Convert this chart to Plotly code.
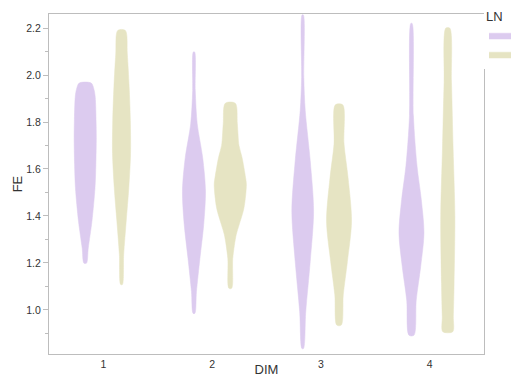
import plotly.graph_objects as go

# Categories
dims = [1, 2, 3, 4]
ln_levels = ["1", "2"]
ln_colors = {"1": "#dccbef", "2": "#e6e4c3"}
ln_offset = {"1": -0.167, "2": 0.167}

# Violin profiles: FE levels (top -> bottom) and half-widths (x units)
fe_d1_ln1 = [1.966, 1.94, 1.906, 1.80, 1.734, 1.62, 1.52, 1.378, 1.263, 1.199]
hw_d1_ln1 = [0.055, 0.080, 0.092, 0.100, 0.102, 0.098, 0.090, 0.062, 0.028, 0.012]
fe_d1_ln2 = [2.19, 2.09, 1.95, 1.806, 1.665, 1.52, 1.378, 1.236, 1.108]
hw_d1_ln2 = [0.035, 0.053, 0.070, 0.081, 0.083, 0.067, 0.043, 0.020, 0.008]
fe_d2_ln1 = [2.098, 1.934, 1.792, 1.649, 1.506, 1.365, 1.22, 1.078, 0.985]
hw_d2_ln1 = [0.006, 0.012, 0.030, 0.080, 0.106, 0.090, 0.055, 0.023, 0.008]
fe_d2_ln2 = [1.88, 1.792, 1.70, 1.649, 1.565, 1.535, 1.435, 1.36, 1.321, 1.22, 1.092]
hw_d2_ln2 = [0.046, 0.065, 0.080, 0.108, 0.140, 0.148, 0.126, 0.080, 0.055, 0.023, 0.013]
fe_d3_ln1 = [2.256, 1.99, 1.849, 1.635, 1.42, 1.206, 0.992, 0.835]
hw_d3_ln1 = [0.006, 0.010, 0.023, 0.069, 0.100, 0.069, 0.028, 0.007]
fe_d3_ln2 = [1.873, 1.706, 1.563, 1.378, 1.206, 1.064, 0.935]
hw_d3_ln2 = [0.034, 0.046, 0.083, 0.115, 0.077, 0.039, 0.021]
fe_d4_ln1 = [2.22, 1.827, 1.613, 1.471, 1.328, 1.185, 1.042, 0.892]
hw_d4_ln1 = [0.006, 0.018, 0.051, 0.090, 0.115, 0.085, 0.044, 0.023]
fe_d4_ln2 = [2.2, 1.97, 1.685, 1.4, 1.113, 0.971, 0.907]
hw_d4_ln2 = [0.018, 0.034, 0.049, 0.065, 0.058, 0.051, 0.046]

profiles = {
    (1, "1"): (fe_d1_ln1, hw_d1_ln1), (1, "2"): (fe_d1_ln2, hw_d1_ln2),
    (2, "1"): (fe_d2_ln1, hw_d2_ln1), (2, "2"): (fe_d2_ln2, hw_d2_ln2),
    (3, "1"): (fe_d3_ln1, hw_d3_ln1), (3, "2"): (fe_d3_ln2, hw_d3_ln2),
    (4, "1"): (fe_d4_ln1, hw_d4_ln1), (4, "2"): (fe_d4_ln2, hw_d4_ln2),
}

fig = go.Figure()
for ln in ln_levels:
    for i, d in enumerate(dims):
        fe, hw = profiles[(d, ln)]
        c = d + ln_offset[ln]
        xs = [c + w for w in hw] + [c - w for w in reversed(hw)]
        ys = list(fe) + list(reversed(fe))
        xs.append(xs[0]); ys.append(ys[0])
        fig.add_trace(go.Scatter(
            x=xs, y=ys, mode="lines", fill="toself",
            fillcolor=ln_colors[ln],
            line=dict(color=ln_colors[ln], width=0.5, shape="spline", smoothing=0.85),
            name=ln, legendgroup=ln, showlegend=(i == 0), hoverinfo="skip",
        ))

axis_color = "#bdbdbd"
font = dict(family="Liberation Sans, Arial, sans-serif", size=11, color="#333333")
fig.update_layout(
    width=511, height=377,
    margin=dict(l=49, r=27, t=14, b=23, autoexpand=False),
    plot_bgcolor="white", paper_bgcolor="white",
    font=font,
    showlegend=True,
    legend=dict(title=dict(text="LN", font=dict(size=13)), x=1.0, xanchor="left",
                y=1.03, yanchor="top", font=dict(size=10), tracegroupgap=0,
                itemwidth=30),
    xaxis=dict(range=[0.5, 4.5], tickvals=dims, ticktext=[str(d) for d in dims],
               showgrid=False, zeroline=False, showline=True, linecolor=axis_color,
               mirror=True, ticks="", tickfont=dict(size=10.5),
               title=dict(text="DIM", standoff=3)),
    yaxis=dict(range=[0.812, 2.26], dtick=0.2, tick0=0, tickformat=".1f",
               showgrid=False, zeroline=False, showline=True, linecolor=axis_color,
               mirror=True, ticks="outside", ticklen=5, tickcolor=axis_color,
               tickfont=dict(size=10.5),
               minor=dict(dtick=0.1, ticks="outside", ticklen=3, tickcolor=axis_color),
               title=dict(text="FE", standoff=0)),
)
fig.write_html("out.html")
